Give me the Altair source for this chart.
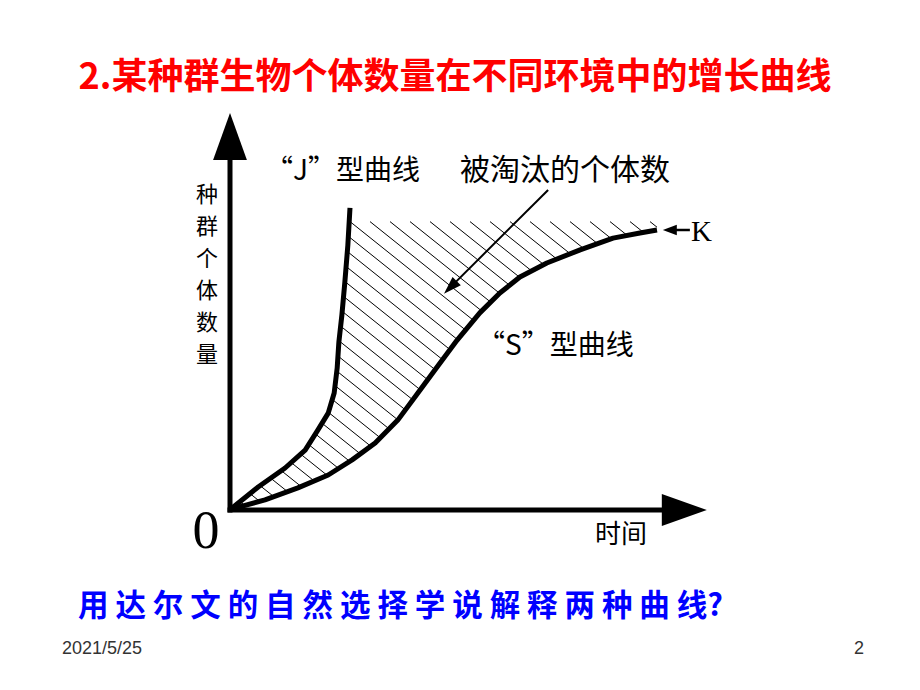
import altair as alt
import pandas as pd
import numpy as np

# ---- data (time, population size) ----
j_time = [0, 0.05, 0.66, 1.29, 1.76, 2.06, 2.30, 2.44, 2.51, 2.55, 2.62, 2.69, 2.76, 2.81]
j_pop = [0, 0.7, 8.2, 15.0, 21.4, 28.6, 34.6, 41.8, 50.7, 60.0, 69.6, 81.4, 94.6, 107.9]
s_time = [0, 0.12, 0.82, 1.59, 2.30, 2.86, 3.40, 3.93, 4.40, 4.85, 5.32, 5.85, 6.32, 6.79,
          7.42, 8.20, 8.97, 9.60, 10.0]
s_pop = [0, 0.7, 3.6, 7.9, 12.5, 17.9, 23.9, 32.1, 41.8, 51.1, 60.7, 70.4, 77.5, 83.2,
         88.2, 92.9, 97.1, 98.9, 100]
K = 100
hatch_top = 103

title_text = "2.某种群生物个体数量在不同环境中的增长曲线"
y_title = ["种", "群", "个", "体", "数", "量"]
x_title = "时间"
j_label = "“J”型曲线"
s_label = "“S”型曲线"
elim_label = "被淘汰的个体数"
question = "用 达 尔 文 的 自 然 选 择 学 说 解 释 两 种 曲 线?"
date_text = "2021/5/25"
page_no = "2"

XS = alt.Scale(domain=[0, 10], range=[222, 649], nice=False, zero=False)
YS = alt.Scale(domain=[0, 100], range=[502, 222], nice=False, zero=False)


def X(f):
    return alt.X(f, type="quantitative", scale=XS, axis=None)


def Y(f):
    return alt.Y(f, type="quantitative", scale=YS, axis=None)


j_df = pd.DataFrame({"t": j_time, "N": j_pop, "i": list(range(len(j_time)))})
s_df = pd.DataFrame({"t": s_time, "N": s_pop, "i": list(range(len(s_time)))})

# ---- hatch pattern between the two curves (decoration only) ----
PXU, PYU = 42.7, 2.8          # pixels per data unit, same as the scales above
slope, step = 0.8, 20         # hatch direction (down-right) and spacing in pixels
d = np.array([1.0, slope])


def to_px(t, n):
    return np.array([t * PXU, -n * PYU])


J_px = [to_px(t, n) for t, n in zip(j_time, j_pop)]
S_px = [to_px(t, n) for t, n in zip(s_time, s_pop)]


def first_cross(poly, p0):
    best = None
    for a, b in zip(poly[:-1], poly[1:]):
        e = b - a
        M = np.array([[d[0], -e[0]], [d[1], -e[1]]])
        if abs(np.linalg.det(M)) < 1e-12:
            continue
        s, u = np.linalg.solve(M, a - p0)
        if s >= -1e-9 and -1e-9 <= u <= 1 + 1e-9:
            if best is None or s < best:
                best = s
    return best


starts = [(t0, hatch_top) for t0 in np.arange(0, 10, step / PXU)]
starts += [(0.0, y0) for y0 in np.arange(hatch_top - step * slope / PYU, 0.3,
                                          -step * slope / PYU)]
rows = []
for t0, y0 in starts:
    p0 = to_px(t0, y0)
    sj = first_cross(J_px, p0)
    s_in = sj if sj is not None else 0.0
    ss = first_cross(S_px, p0)
    s_out = (10 - t0) * PXU
    if ss is not None:
        s_out = min(s_out, ss)
    if s_out > s_in + 0.5:
        rows.append({"t": t0 + s_in / PXU, "N": y0 - slope * s_in / PYU,
                     "t2": t0 + s_out / PXU, "N2": y0 - slope * s_out / PYU})
hatch_df = pd.DataFrame(rows)

hatch = alt.Chart(hatch_df).mark_rule(color="black", strokeWidth=1).encode(
    x=X("t"), y=Y("N"), x2="t2", y2="N2")

j_line = alt.Chart(j_df).mark_line(color="black", strokeWidth=5, strokeJoin="round").encode(
    x=X("t"), y=Y("N"), order=alt.Order("i:Q"))
s_line = alt.Chart(s_df).mark_line(color="black", strokeWidth=5, strokeJoin="round").encode(
    x=X("t"), y=Y("N"), order=alt.Order("i:Q"))

# ---- axes with arrows ----
axis_df = pd.DataFrame({"t": [0, 0], "N": [0, 0], "t2": [0, 10.6], "N2": [133, 0]})
axes = alt.Chart(axis_df).mark_rule(color="black", strokeWidth=5, strokeCap="square").encode(
    x=X("t"), y=Y("N"), x2="t2", y2="N2")

yarrow = alt.Chart(pd.DataFrame({"t": [0], "N": [133.4]})).mark_point(
    shape="M0,-1L0.72,1L-0.72,1Z", size=2209, filled=True, color="black", opacity=1,
    strokeWidth=0).encode(x=X("t"), y=Y("N"))
xarrow = alt.Chart(pd.DataFrame({"t": [10.64], "N": [0]})).mark_point(
    shape="M1,0L-1,-0.71L-1,0.71Z", size=2025, filled=True, color="black", opacity=1,
    strokeWidth=0).encode(x=X("t"), y=Y("N"))

# K marker arrow
k_rule = alt.Chart(pd.DataFrame({"t": [10.3], "t2": [10.77], "N": [K]})).mark_rule(
    color="black", strokeWidth=2.5).encode(x=X("t"), x2="t2", y=Y("N"))
k_head = alt.Chart(pd.DataFrame({"t": [10.3], "N": [K]})).mark_point(
    shape="M-1,0L1,-0.75L1,0.75Z", size=196, filled=True, color="black", opacity=1,
    strokeWidth=0).encode(x=X("t"), y=Y("N"))

# pointer arrow to the hatched area
ptr = alt.Chart(pd.DataFrame({"t": [7.45], "N": [114.3], "t2": [5.16], "N2": [79.5]})).mark_rule(
    color="black", strokeWidth=2).encode(x=X("t"), y=Y("N"), x2="t2", y2="N2")
ptr_head = alt.Chart(pd.DataFrame({"t": [5.16], "N": [79.5]})).mark_point(
    shape="M0,-1L0.65,1L-0.65,1Z", size=324, angle=225, filled=True, color="black",
    opacity=1, strokeWidth=0).encode(x=X("t"), y=Y("N"))

one = pd.DataFrame({"a": [0]})
CJK = "Noto Sans CJK SC"


def txt(text, x, y, size, align="left", baseline="middle", color="black", weight="normal",
        font=CJK, **kw):
    return alt.Chart(one).mark_text(
        text=text, align=align, baseline=baseline, fontSize=size, color=color,
        fontWeight=weight, font=font, **kw).encode(x=alt.value(x), y=alt.value(y))


texts = [
    txt(title_text, 447, 70, 36, align="center", color="#FF0000", weight="bold"),
    txt(x_title, 613, 527, 26, align="center"),
    txt("0", 198, 524, 54, align="center", font="Liberation Serif"),
    txt(j_label, 257, 164, 28),
    txt(elim_label, 452, 163, 30),
    txt(s_label, 469, 339, 28),
    txt("K", 683, 224, 29, font="Liberation Serif"),
    txt(question, 70, 599, 30.5, color="#0000FF", weight="bold"),
    txt(date_text, 54, 641, 18, font="Liberation Sans", color="#333333"),
    txt(page_no, 856, 641, 18, align="right", font="Liberation Sans", color="#333333"),
]
for k, ch in enumerate(y_title):
    texts.append(txt(ch, 199, 187 + 32 * k, 22, align="center"))

chart = alt.layer(
    hatch, j_line, s_line, axes, yarrow, xarrow,
    k_rule, k_head, ptr, ptr_head, *texts
).properties(
    width=904, height=674, padding=0,
    autosize=alt.AutoSizeParams(type="none"),
    background="white",
).configure_view(strokeWidth=0)

chart.save("out.html", embed_options={"renderer": "svg", "actions": False})
